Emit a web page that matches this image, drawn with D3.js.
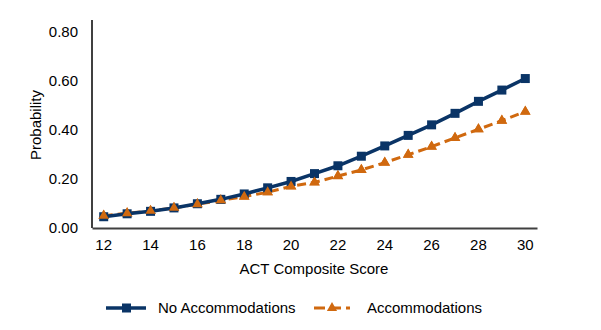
<!DOCTYPE html>
<html><head><meta charset="utf-8">
<script src="https://cdn.jsdelivr.net/npm/d3@7"></script>
<style>body{margin:0;background:#fff}svg{display:block;font-family:"Liberation Sans",Arial,sans-serif}</style>
</head><body><svg id="c" width="601" height="330"></svg>
<script>
const scores = [12,13,14,15,16,17,18,19,20,21,22,23,24,25,26,27,28,29,30];
const noAccom = [0.046,0.058,0.068,0.082,0.099,0.117,0.139,0.164,0.190,0.222,0.254,0.293,0.335,0.378,0.421,0.468,0.517,0.563,0.610];
const accom = [0.050,0.060,0.070,0.082,0.097,0.113,0.128,0.146,0.170,0.186,0.212,0.237,0.267,0.299,0.332,0.368,0.403,0.438,0.475];
const yTicks = [0,0.2,0.4,0.6,0.8];
const xTicks = [12,14,16,18,20,22,24,26,28,30];
const seriesNames = ["No Accommodations","Accommodations"];
const colors = ["#0a3466","#d0690f"];

const svg = d3.select("#c");
const x = d3.scaleBand().domain(scores).range([92,537]);
const y = d3.scaleLinear().domain([0,0.8]).range([228,32]);
const cx = d => x(d) + x.bandwidth()/2;

// axes
const ya = svg.append("g").attr("transform","translate(92,0)")
  .call(d3.axisLeft(y).tickValues(yTicks).tickFormat(d3.format(".2f")).tickSize(0).tickPadding(14));
const xa = svg.append("g").attr("transform","translate(0,228)")
  .call(d3.axisBottom(x).tickValues(xTicks).tickSize(0).tickPadding(11));
[ya,xa].forEach(a=>{
  a.select(".domain").attr("stroke","#404040").attr("stroke-width",2);
  a.selectAll("text").attr("font-size",15).attr("fill","#000").attr("font-family","Liberation Sans, Arial, sans-serif");
});
ya.select(".domain").attr("d","M0,20V228");

svg.append("text").attr("x",314).attr("y",274).attr("text-anchor","middle").attr("font-size",15).text("ACT Composite Score");
svg.append("text").attr("transform","translate(41,125) rotate(-90)").attr("text-anchor","middle").attr("font-size",15).text("Probability");

const line = d3.line().x((d,i)=>cx(scores[i])).y(d=>y(d));
// accommodations (behind)
svg.append("path").datum(accom).attr("d",line).attr("fill","none").attr("stroke",colors[1]).attr("stroke-width",3).attr("stroke-dasharray","9,5");
svg.append("g").selectAll("path").data(accom).join("path")
  .attr("d",d3.symbol(d3.symbolTriangle,50)).attr("fill",colors[1])
  .attr("transform",(d,i)=>`translate(${cx(scores[i])},${y(d)})`);
// no accommodations
svg.append("path").datum(noAccom).attr("d",line).attr("fill","none").attr("stroke",colors[0]).attr("stroke-width",3.5);
svg.append("g").selectAll("rect").data(noAccom).join("rect")
  .attr("x",(d,i)=>cx(scores[i])-4.5).attr("y",d=>y(d)-4.5).attr("width",9).attr("height",9).attr("fill",colors[0]);

// redraw accom markers on top? keep triangles visible
svg.append("g").selectAll("path").data(accom).join("path")
  .attr("d",d3.symbol(d3.symbolTriangle,45)).attr("fill",colors[1])
  .attr("transform",(d,i)=>`translate(${cx(scores[i])},${y(d)})`);

// legend
const lg = svg.append("g");
lg.append("line").attr("x1",106).attr("x2",146).attr("y1",308).attr("y2",308).attr("stroke",colors[0]).attr("stroke-width",3.5);
lg.append("rect").attr("x",122).attr("y",303.5).attr("width",9).attr("height",9).attr("fill",colors[0]);
lg.append("text").attr("x",158).attr("y",313).attr("font-size",15).text(seriesNames[0]);
lg.append("line").attr("x1",314).attr("x2",350).attr("y1",308).attr("y2",308).attr("stroke",colors[1]).attr("stroke-width",3).attr("stroke-dasharray","11,5");
lg.append("path").attr("d",d3.symbol(d3.symbolTriangle,45)).attr("fill",colors[1]).attr("transform","translate(332,308)");
lg.append("text").attr("x",367).attr("y",313).attr("font-size",15).text(seriesNames[1]);
</script></body></html>
